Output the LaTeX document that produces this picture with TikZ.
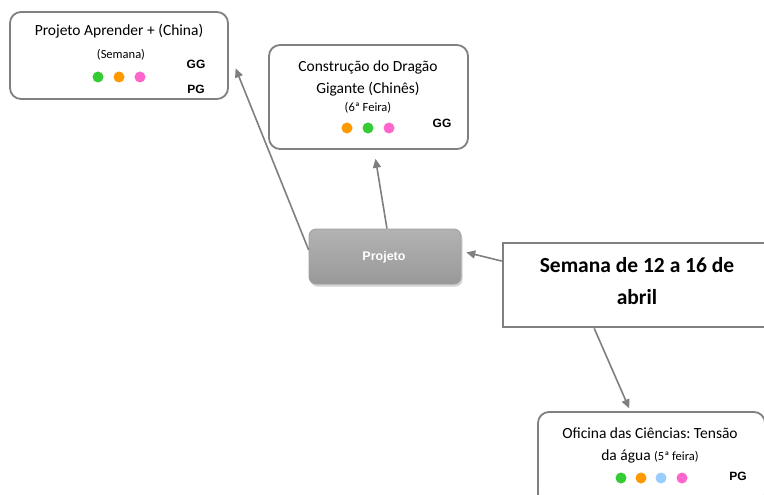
\documentclass[tikz,border=0pt]{standalone}
\usepackage{fontspec}
\setmainfont{Carlito}
\newfontfamily\arialf{Liberation Sans}
\usetikzlibrary{arrows.meta,shadows}
\definecolor{boxgray}{HTML}{808080}
\definecolor{linegray}{HTML}{7F7F7F}
\definecolor{cgreen}{HTML}{33CC33}
\definecolor{corange}{HTML}{FF9900}
\definecolor{cpink}{HTML}{FF66CC}
\definecolor{cblue}{HTML}{99CCFF}
\frenchspacing
\begin{document}
\begin{tikzpicture}[x=1pt,y=-1pt,
  box/.style={draw=boxgray, line width=1.8pt, rounded corners=11pt, fill=white, inner sep=0pt},
  sqbox/.style={draw=boxgray, line width=2.6pt, fill=white, inner sep=0pt},
  projbox/.style={draw=gray!75, line width=0.8pt, rounded corners=7pt, top color=gray!60, bottom color=gray!80, inner sep=0pt,
     drop shadow={shadow xshift=1.5pt, shadow yshift=-2.5pt, opacity=0.35}},
  txt/.style={inner sep=0pt, font=\fontsize{15.5}{18}\selectfont},
  small/.style={inner sep=0pt, font=\fontsize{12.5}{14}\selectfont},
  big/.style={inner sep=0pt, font=\fontsize{21.5}{25}\selectfont\bfseries},
  tag/.style={inner sep=0pt, font=\arialf\bfseries\fontsize{12}{14}\selectfont},
  dot/.style={circle, minimum size=11pt, inner sep=0pt, draw=none},
  conn/.style={draw=linegray, line width=1.6pt, -{Triangle[length=9pt,width=8pt]}}]
\useasboundingbox (0,0) rectangle (764,495);
\clip (0,0) rectangle (764,495);
\fill[white] (0,0) rectangle (764,495);

% Box A
\node[box, minimum width=218pt, minimum height=87pt] (boxA) at (119,55.5) {};
\node[txt] (tA1) at (119,31) {Projeto Aprender + (China)};
\node[small] (tA2) at (121,55) {(Semana)};
\node[dot, fill=cgreen] (dA1) at (98,77) {};
\node[dot, fill=corange] (dA2) at (119,77) {};
\node[dot, fill=cpink] (dA3) at (140,77) {};
\node[tag] (gA) at (196,64) {GG};
\node[tag] (pA) at (196,89) {PG};

% Box B
\node[box, minimum width=199pt, minimum height=104pt] (boxB) at (368.5,97) {};
\node[txt] (tB1) at (368,67) {Construção do Dragão};
\node[txt] (tB2) at (368,89) {Gigante (Chinês)};
\node[small] (tB3) at (368,108) {(6ª Feira)};
\node[dot, fill=corange] (dB1) at (347,128) {};
\node[dot, fill=cgreen] (dB2) at (368,128) {};
\node[dot, fill=cpink] (dB3) at (389,128) {};
\node[tag] (gB) at (442,123) {GG};

% Projeto
\node[projbox, minimum width=152pt, minimum height=55pt] (proj) at (385,256.5) {};
\node[tag, text=white, font=\arialf\bfseries\fontsize{12.5}{14}\selectfont] (tP) at (384,257) {Projeto};

% Semana
\node[sqbox, minimum width=269pt, minimum height=84pt] (sem) at (637.5,285) {};
\node[big] (tS1) at (637,265) {Semana de 12 a 16 de};
\node[big] (tS2) at (637,297) {abril};

% Oficina
\node[box, minimum width=227pt, minimum height=93pt] (ofi) at (651.5,458.5) {};
\node[txt] (tO1) at (650,433) {Oficina das Ciências: Tensão};
\node[txt] (tO2) at (650,456) {da água {\fontsize{12.5}{14}\selectfont(5ª feira)}};
\node[dot, fill=cgreen] (dO1) at (621,478) {};
\node[dot, fill=corange] (dO2) at (641,478) {};
\node[dot, fill=cblue] (dO3) at (661,478) {};
\node[dot, fill=cpink] (dO4) at (682,478) {};
\node[tag] (pO) at (738,476) {PG};

% connectors
\draw[conn, shorten >=18pt] (proj.175) -- (boxA.2);
\draw[conn, shorten >=9pt] (proj.86) -- (boxB.-84.5);
\draw[conn, shorten >=5pt] (sem.170.7) -- (proj.4.5);
\draw[conn, shorten >=3pt] (sem.-135.3) -- (ofi.114);
\end{tikzpicture}
\end{document}
